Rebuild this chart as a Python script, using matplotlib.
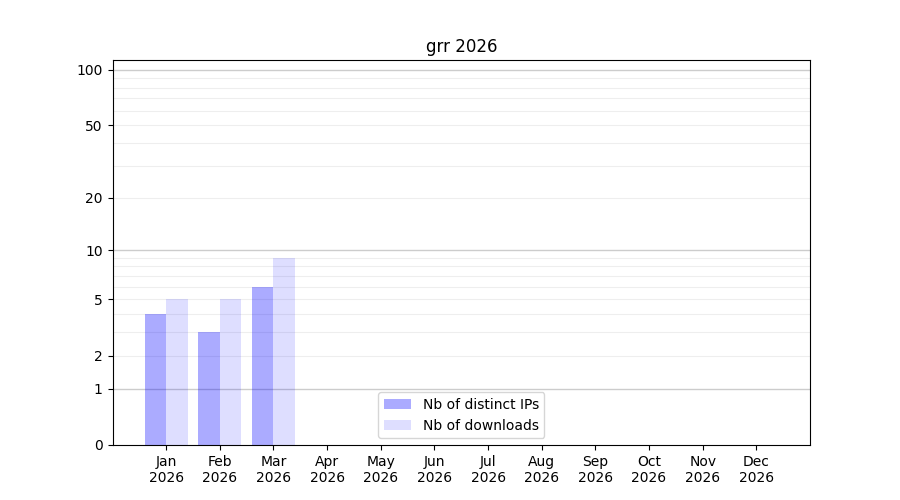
import numpy as np
import matplotlib.pyplot as plt

months = ['Jan', 'Feb', 'Mar', 'Apr', 'May', 'Jun',
          'Jul', 'Aug', 'Sep', 'Oct', 'Nov', 'Dec']
year = 2026
distinct_ips = [4, 3, 6, 0, 0, 0, 0, 0, 0, 0, 0, 0]
downloads = [5, 5, 9, 0, 0, 0, 0, 0, 0, 0, 0, 0]
y_ticks = [0, 1, 2, 5, 10, 20, 50, 100]

# échelle log(1 + x) pour garder le zéro
def fwd(v):
    return np.log10(1 + np.clip(v, 0, None))

def inv(v):
    return 10 ** v - 1

fig, ax = plt.subplots(figsize=(9, 5), dpi=100)
ax.set_yscale('function', functions=(fwd, inv))

x = np.arange(len(months))
ax.bar(x - 0.2, distinct_ips, width=0.4, color='blue', alpha=0.33,
       label='Nb of distinct IPs')
ax.bar(x + 0.2, downloads, width=0.4, color='blue', alpha=0.13,
       label='Nb of downloads')

# lignes de grille
for v in [2, 3, 4, 5, 6, 7, 8, 9, 20, 30, 40, 50, 60, 70, 80, 90]:
    ax.axhline(v, color='#eeeeee', lw=0.8, zorder=0)
for v in [1, 10, 100]:
    ax.axhline(v, color='#cccccc', lw=1, zorder=0)

ax.set_yticks(y_ticks)
ax.set_yticklabels([str(t) for t in y_ticks])
ax.set_ylim(0, 113)
ax.set_xlim(-1, 12)
ax.set_xticks(x)
ax.set_xticklabels(['%s\n%d' % (m, year) for m in months])
ax.set_title('grr %d' % year)
ax.legend(loc='lower center')

plt.savefig('out.png')
